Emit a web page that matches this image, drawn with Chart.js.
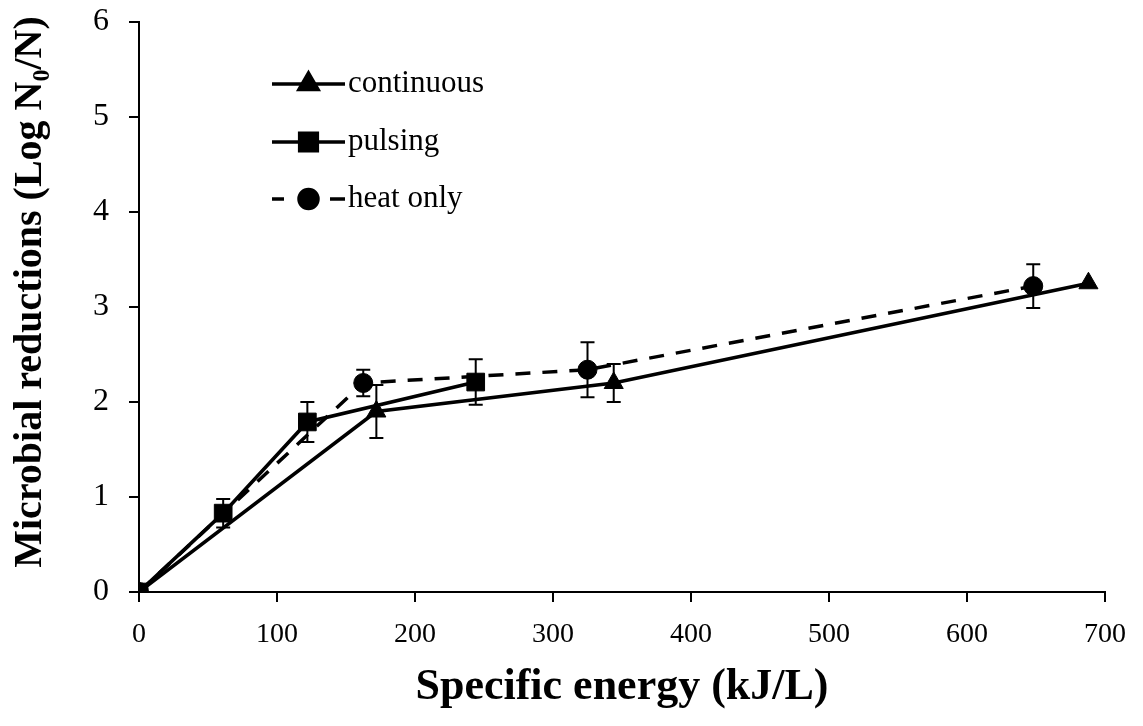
<!DOCTYPE html>
<html>
<head>
<meta charset="utf-8">
<script src="https://cdn.jsdelivr.net/npm/chart.js@4.4.1/dist/chart.umd.min.js"></script>
<style>
  html, body { margin: 0; padding: 0; background: #fff; }
  #wrap { width: 1143px; height: 726px; }
</style>
</head>
<body>
<div id="wrap"><canvas id="c" width="1143" height="726"></canvas></div>
<script>
// ---- data ----
const seriesNames = ['continuous', 'pulsing', 'heat only'];
const continuousX = [0, 172, 344, 688];
const continuousY = [0, 1.90, 2.20, 3.25];
const continuousErr = [0, 0.28, 0.20, 0];
const pulsingX = [0, 61, 122, 244];
const pulsingY = [0, 0.83, 1.79, 2.21];
const pulsingErr = [0, 0.15, 0.21, 0.24];
const heatX = [0, 162.5, 325, 648];
const heatY = [0, 2.20, 2.34, 3.22];
const heatErr = [0, 0.14, 0.29, 0.23];
const xTicks = [0, 100, 200, 300, 400, 500, 600, 700];
const yTicks = [0, 1, 2, 3, 4, 5, 6];
const xTitle = 'Specific energy (kJ/L)';
const yTitle = 'Microbial reductions (Log N\u2080/N)';

const toPts = (xs, ys) => xs.map((x, i) => ({ x: x, y: ys[i] }));
const SERIF = "'Liberation Serif', 'Times New Roman', serif";

const errorBars = {
  id: 'errorBars',
  beforeDatasetsDraw(chart) {
    const ctx = chart.ctx;
    const ys = chart.scales.y;
    ctx.save();
    ctx.strokeStyle = '#000';
    ctx.lineWidth = 2;
    chart.data.datasets.forEach((ds, di) => {
      const meta = chart.getDatasetMeta(di);
      ds.errors.forEach((e, i) => {
        if (!e) return;
        const pt = meta.data[i];
        const v = ds.data[i].y;
        const yt = ys.getPixelForValue(v + e);
        const yb = ys.getPixelForValue(v - e);
        const x = pt.x;
        ctx.beginPath();
        ctx.moveTo(x, yt); ctx.lineTo(x, yb);
        ctx.moveTo(x - 7, yt); ctx.lineTo(x + 7, yt);
        ctx.moveTo(x - 7, yb); ctx.lineTo(x + 7, yb);
        ctx.stroke();
      });
    });
    ctx.restore();
  }
};

// y-axis title drawn rotated, slightly above the plot's vertical centre as in the reference
const yAxisTitle = {
  id: 'yAxisTitle',
  afterDraw(chart) {
    const ctx = chart.ctx;
    const ca = chart.chartArea;
    ctx.save();
    ctx.translate(31, (ca.top + ca.bottom) / 2 - 15);
    ctx.rotate(-Math.PI / 2);
    ctx.font = "bold 40px " + SERIF;
    ctx.fillStyle = '#000';
    ctx.textAlign = 'center';
    ctx.textBaseline = 'middle';
    ctx.fillText(yTitle, 0, 0);
    ctx.restore();
  }
};

const customLegend = {
  id: 'customLegend',
  afterDraw(chart) {
    const ctx = chart.ctx;
    const ca = chart.chartArea;
    const x0 = ca.left + 133, x1 = ca.left + 206;
    const xm = (x0 + x1) / 2;
    const rows = [ca.top + 62, ca.top + 120, ca.top + 177];
    ctx.save();
    chart.data.datasets.forEach((ds, i) => {
      const y = rows[i];
      ctx.strokeStyle = '#000';
      ctx.lineWidth = ds.borderWidth;
      ctx.beginPath();
      if (ds.borderDash && ds.borderDash.length) {
        ctx.moveTo(x0, y); ctx.lineTo(x0 + 12, y);
        ctx.moveTo(x1 - 15, y); ctx.lineTo(x1, y);
      } else {
        ctx.moveTo(x0, y); ctx.lineTo(x1, y);
      }
      ctx.stroke();
      Chart.helpers.drawPoint(ctx, {
        pointStyle: ds.pointStyle,
        radius: ds.pointRadius,
        borderWidth: 1,
        rotation: 0
      }, xm, y);
      ctx.fillStyle = '#000';
      ctx.fill();
      ctx.font = "31px " + SERIF;
      ctx.textBaseline = 'middle';
      ctx.textAlign = 'left';
      ctx.fillStyle = '#000';
      ctx.fillText(ds.label, x1 + 3, y);
    });
    ctx.restore();
  }
};

const common = {
  borderColor: '#000',
  backgroundColor: '#000',
  pointBackgroundColor: '#000',
  pointBorderColor: '#000',
  borderWidth: 3.5,
  pointBorderWidth: 1,
  tension: 0,
  fill: false
};

new Chart(document.getElementById('c'), {
  type: 'scatter',
  data: {
    datasets: [
      Object.assign({}, common, {
        label: seriesNames[0], data: toPts(continuousX, continuousY), errors: continuousErr,
        showLine: true, pointStyle: 'triangle', pointRadius: 11
      }),
      Object.assign({}, common, {
        label: seriesNames[1], data: toPts(pulsingX, pulsingY), errors: pulsingErr,
        showLine: true, pointStyle: 'rect', pointRadius: 12.5
      }),
      Object.assign({}, common, {
        label: seriesNames[2], data: toPts(heatX, heatY), errors: heatErr,
        showLine: true, pointStyle: 'circle', pointRadius: 9.5, borderDash: [15, 12]
      })
    ]
  },
  options: {
    responsive: false,
    animation: false,
    devicePixelRatio: 1,
    layout: { padding: { top: 22, right: 38, left: 0, bottom: 0 } },
    plugins: { legend: { display: false }, tooltip: { enabled: false } },
    scales: {
      x: {
        type: 'linear', min: 0, max: 700,
        afterBuildTicks: (s) => { s.ticks = xTicks.map(v => ({ value: v })); },
        afterFit: (s) => { s.height = 134; s.paddingLeft = 0; s.paddingRight = 0; },
        ticks: { font: { family: SERIF, size: 28 }, color: '#000', padding: 16, maxRotation: 0 },
        grid: { display: true, drawOnChartArea: false, drawTicks: true, tickLength: 10, color: '#000', lineWidth: 2 },
        border: { display: true, color: '#000', width: 2 },
        title: { display: true, text: xTitle, color: '#000', font: { family: SERIF, size: 44, weight: 'bold' }, padding: { top: 0, bottom: 12 } }
      },
      y: {
        type: 'linear', min: 0, max: 6,
        afterBuildTicks: (s) => { s.ticks = yTicks.map(v => ({ value: v })); },
        afterFit: (s) => { s.width = 139; s.paddingTop = 0; s.paddingBottom = 0; },
        ticks: { font: { family: SERIF, size: 32 }, color: '#000', padding: 20 },
        grid: { display: true, drawOnChartArea: false, drawTicks: true, tickLength: 10, color: '#000', lineWidth: 2 },
        border: { display: true, color: '#000', width: 2 },
        title: { display: false, text: yTitle }
      }
    }
  },
  plugins: [errorBars, customLegend, yAxisTitle]
});
</script>
</body>
</html>
